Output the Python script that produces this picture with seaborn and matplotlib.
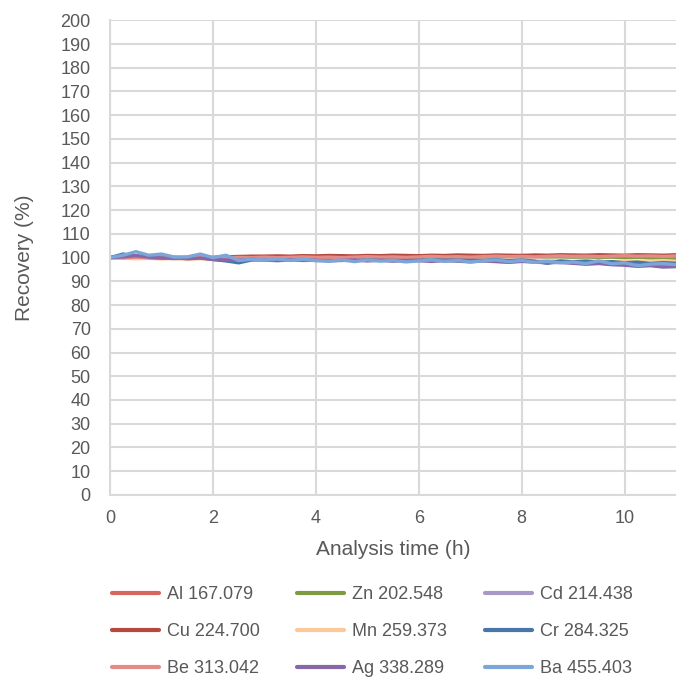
import pandas as pd
import matplotlib
matplotlib.use("Agg")
import matplotlib.pyplot as plt
import seaborn as sns

# Analysis time (h) and recovery (%) per element line
times = [0, 0.25, 0.5, 0.75, 1, 1.25, 1.5, 1.75, 2,
         2.25, 2.5, 2.75, 3, 3.25, 3.5, 3.75, 4, 4.25,
         4.5, 4.75, 5, 5.25, 5.5, 5.75, 6, 6.25, 6.5,
         6.75, 7, 7.25, 7.5, 7.75, 8, 8.25, 8.5, 8.75,
         9, 9.25, 9.5, 9.75, 10, 10.25, 10.5, 10.75, 11]

al = [100.0, 100.2, 100.0, 99.9, 100.1, 100.0, 100.2, 99.9, 100.1,
      100.3, 100.5, 100.4, 100.6, 100.5, 100.4, 100.6, 100.5, 100.7,
      100.6, 100.5, 100.7, 100.6, 100.5, 100.7, 100.8, 100.6, 100.7,
      100.5, 100.7, 100.8, 100.6, 100.7, 100.9, 100.7, 100.6, 100.8,
      100.7, 100.9, 100.8, 100.6, 100.8, 100.7, 100.9, 100.8, 100.7]
zn = [100.0, 100.0, 99.9, 100.1, 99.9, 100.0, 99.8, 100.0, 99.7,
      99.6, 99.8, 99.9, 100.0, 99.8, 100.0, 99.9, 100.1, 99.9,
      100.0, 100.2, 100.0, 100.1, 100.3, 100.1, 100.2, 100.4, 100.2,
      100.3, 100.5, 100.3, 100.4, 100.6, 100.4, 100.5, 100.3, 100.4,
      100.2, 100.3, 100.1, 100.2, 100.0, 100.1, 99.9, 100.0, 99.8]
cd = [100.0, 100.5, 100.9, 100.3, 100.0, 100.2, 99.7, 100.0, 99.4,
      99.3, 99.1, 99.5, 99.2, 98.9, 99.4, 99.0, 99.1, 98.8,
      99.0, 99.2, 98.8, 99.1, 98.7, 99.0, 98.9, 98.6, 99.0,
      98.7, 98.4, 98.8, 98.5, 98.2, 98.6, 98.3, 98.0, 98.2,
      97.8, 97.5, 97.8, 97.3, 97.1, 96.7, 97.0, 96.5, 96.7]
cu = [100.0, 100.1, 99.9, 100.0, 100.2, 100.0, 99.9, 100.1, 100.0,
      100.2, 100.4, 100.6, 100.5, 100.7, 100.6, 100.8, 100.7, 100.9,
      100.8, 100.7, 100.9, 100.8, 101.0, 100.9, 100.8, 101.0, 100.9,
      101.1, 101.0, 100.9, 101.1, 101.0, 100.9, 101.1, 101.0, 101.2,
      101.1, 101.0, 101.2, 101.1, 101.0, 101.2, 101.1, 101.0, 101.2]
mn = [100.0, 99.8, 99.5, 99.7, 99.4, 99.6, 99.3, 99.5, 99.2,
      99.0, 99.2, 98.9, 99.1, 98.8, 99.0, 99.1, 98.8, 99.0,
      98.9, 99.1, 98.7, 99.0, 98.8, 99.1, 98.9, 98.6, 98.9,
      98.7, 99.0, 98.8, 98.6, 98.9, 98.7, 98.5, 98.8, 98.6,
      98.4, 98.7, 98.5, 98.3, 98.6, 98.4, 98.2, 98.5, 98.3]
cr = [100.0, 101.5, 100.5, 100.0, 99.8, 99.6, 99.8, 100.0, 99.2,
      98.6, 97.8, 99.0, 99.2, 98.9, 99.5, 99.0, 98.8, 99.0,
      99.2, 98.8, 99.1, 99.4, 99.0, 99.3, 99.1, 98.9, 99.3,
      99.0, 99.2, 98.8, 99.1, 98.7, 99.0, 98.5, 97.6, 98.6,
      98.2, 98.5, 98.0, 98.3, 97.8, 98.1, 97.5, 97.9, 97.6]
be = [100.0, 99.9, 100.1, 100.0, 99.8, 100.0, 99.9, 100.1, 99.8,
      99.9, 100.1, 100.0, 100.2, 100.0, 100.1, 100.3, 100.1, 100.2,
      100.0, 100.2, 100.4, 100.2, 100.3, 100.1, 100.3, 100.5, 100.3,
      100.4, 100.2, 100.4, 100.6, 100.4, 100.5, 100.3, 100.5, 100.7,
      100.5, 100.6, 100.4, 100.6, 100.8, 100.6, 100.7, 100.5, 100.7]
ag = [100.0, 100.3, 100.8, 100.2, 99.8, 100.0, 99.5, 99.8, 99.2,
      99.0, 98.9, 99.3, 99.0, 98.7, 99.1, 98.8, 98.9, 98.6,
      98.8, 99.0, 98.6, 98.9, 98.5, 98.8, 98.7, 98.4, 98.8,
      98.5, 98.2, 98.6, 98.3, 98.0, 98.4, 98.1, 97.8, 98.0,
      97.6, 97.2, 97.5, 97.0, 96.8, 96.3, 96.6, 96.0, 96.2]
ba = [100.0, 101.0, 102.5, 101.0, 101.5, 100.2, 100.3, 101.5, 100.0,
      101.0, 98.8, 99.3, 99.0, 99.4, 98.8, 99.3, 98.7, 98.5,
      99.0, 98.3, 99.0, 98.5, 98.8, 98.2, 98.6, 99.0, 98.4,
      98.8, 98.2, 98.6, 99.0, 98.3, 98.8, 98.0, 98.4, 97.8,
      98.1, 97.5, 98.6, 97.4, 97.8, 96.6, 97.2, 97.5, 97.0]

names = ["Al 167.079", "Zn 202.548", "Cd 214.438",
         "Cu 224.700", "Mn 259.373", "Cr 284.325",
         "Be 313.042", "Ag 338.289", "Ba 455.403"]
series = [al, zn, cd, cu, mn, cr, be, ag, ba]
colors = ["#d5675d", "#7d9b40", "#a898c8",
          "#b5493f", "#fdc897", "#4776a8",
          "#e48b85", "#8767a8", "#7ca6d9"]

rows = []
for name, vals in zip(names, series):
    for t, v in zip(times, vals):
        rows.append({"time": t, "recovery": v, "line": name})
df = pd.DataFrame(rows)

sns.set_style("white")
plt.rcParams['font.family'] = ['Liberation Sans', 'DejaVu Sans']

fig = plt.figure(figsize=(6.76, 6.77), dpi=100)
ax = fig.add_axes([0.163, 0.269, 0.837, 0.701])

sns.lineplot(data=df, x="time", y="recovery", hue="line", hue_order=names,
             palette=dict(zip(names, colors)), linewidth=2.4, ax=ax, legend=False)

grid_c = "#d9d9d9"
ax.set_xlim(0, 11)
ax.set_ylim(0, 200)
ax.set_xticks([0, 2, 4, 6, 8, 10])
ax.set_yticks(range(0, 201, 10))
ax.grid(True, color=grid_c, linewidth=1.5)
ax.set_axisbelow(True)
for s in ["top", "right"]:
    ax.spines[s].set_visible(False)
for s in ["left", "bottom"]:
    ax.spines[s].set_color(grid_c)
    ax.spines[s].set_linewidth(1.5)
ax.tick_params(axis="y", length=0, pad=14, labelsize=13, labelcolor="#595959")
ax.tick_params(axis="x", length=0, pad=11, labelsize=13, labelcolor="#595959")
ax.set_xlabel("Analysis time (h)", fontsize=15, color="#595959", labelpad=9)
ax.set_ylabel("Recovery (%)", fontsize=15, color="#595959", labelpad=19)

# legend fills row by row, matplotlib fills column by column -> reorder
order = [0, 3, 6, 1, 4, 7, 2, 5, 8]
handles = [plt.Line2D([], [], color=colors[i], linewidth=3) for i in order]
labels = [names[i] for i in order]
fig.legend(handles, labels, loc="upper left", bbox_to_anchor=(0.141, 0.158),
           ncol=3, frameon=False, fontsize=13, labelcolor="#595959",
           handlelength=2.6, handletextpad=0.45, columnspacing=2.1,
           labelspacing=1.1)

fig.savefig("out.png", dpi=100)
